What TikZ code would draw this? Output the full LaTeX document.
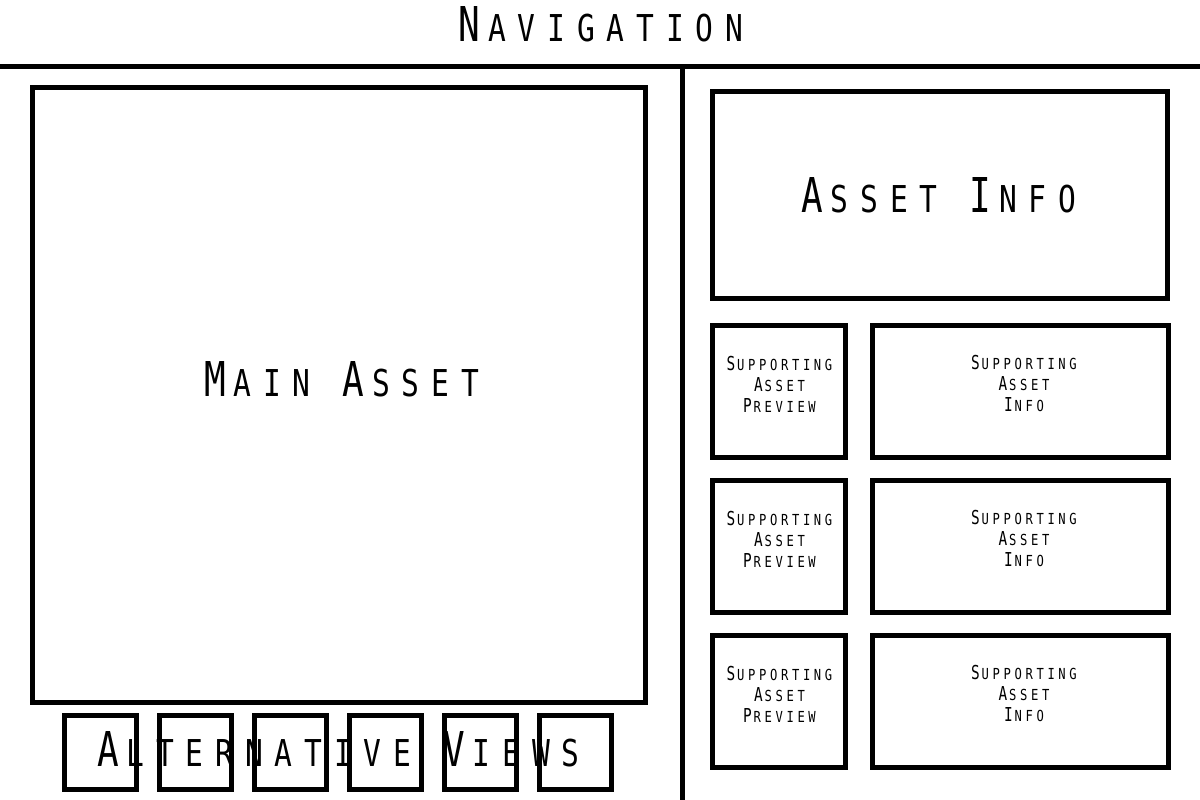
\documentclass[tikz,border=0pt]{standalone}
\usepackage{fontspec}
\usepackage{tikz}
% condensed mono face, caps and faked small caps
\newfontfamily\wirefont[FakeStretch=0.75,LetterSpace=22]{DejaVu Sans Mono}
\newfontfamily\wirelowfont[FakeStretch=0.8,LetterSpace=32]{DejaVu Sans Mono}
\newfontfamily\tinyfont[FakeStretch=0.75,LetterSpace=19]{DejaVu Sans Mono}
\newfontfamily\tinylowfont[FakeStretch=0.8,LetterSpace=24]{DejaVu Sans Mono}
\newcommand\bsc[1]{\kern7.6pt{\wirelowfont\fontsize{37}{48}\selectfont #1}}
\newcommand\tsc[1]{\kern1.8pt{\tinylowfont\fontsize{15.2}{21}\selectfont #1}}
\tikzset{
  frame/.style={draw=black,line width=5pt,inner sep=0pt},
  biglabel/.style={font=\wirefont\fontsize{48}{50}\selectfont,inner sep=0pt},
  smalllabel/.style={font=\tinyfont\fontsize{19.2}{21}\selectfont,align=center,inner sep=0pt}
}

\begin{document}
\begin{tikzpicture}[x=1pt,y=-1pt]
\useasboundingbox[fill=white] (0,0) rectangle (1200,800);

    % page split
    \coordinate (navl) at (0,66.5);
    \coordinate (navr) at (1200,66.5);
    \coordinate (splittop) at (682.5,66.5);
    \coordinate (splitbot) at (682.5,800);
    \draw[line width=5pt] (navl) -- (navr);
    \draw[line width=5pt] (splittop) -- (splitbot);
    \node[biglabel] (nav) at (601,24) {N\bsc{AVIGATION}};

    % left column
    \node[frame,minimum width=613pt,minimum height=614.5pt] (main) at (339,394.75) {};
    \node[biglabel] (mainlabel) at (341.5,379.5) {M\bsc{AIN} A\bsc{SSET}};

    \foreach \i in {0,...,5}
        \node[frame,minimum width=72pt,minimum height=74pt] (alt\i) at (100+95*\i,752.5) {};
    \node[biglabel] (altlabel) at (338.5,749.5) {A\bsc{LTERNATIVE} V\bsc{IEWS}};

    % right column
    \node[frame,minimum width=454.5pt,minimum height=207pt] (info) at (939.75,195) {};
    \node[biglabel] (infolabel) at (939,195.5) {A\bsc{SSET} I\bsc{NFO}};

    \foreach \r/\y in {1/391.5,2/546.75,3/701.5} {
        \node[frame,minimum width=133pt,minimum height=132pt] (prev\r) at (779,\y) {};
        \node[frame,minimum width=296pt,minimum height=132pt] (sup\r) at (1020.5,\y) {};
        \node[smalllabel] (prevlabel\r) at (779.5,\y-7) {S\tsc{UPPORTING}\\A\tsc{SSET}\\P\tsc{REVIEW}};
        \node[smalllabel] (suplabel\r) at (1024,\y-8) {S\tsc{UPPORTING}\\A\tsc{SSET}\\I\tsc{NFO}};
    }

\end{tikzpicture}
\end{document}
